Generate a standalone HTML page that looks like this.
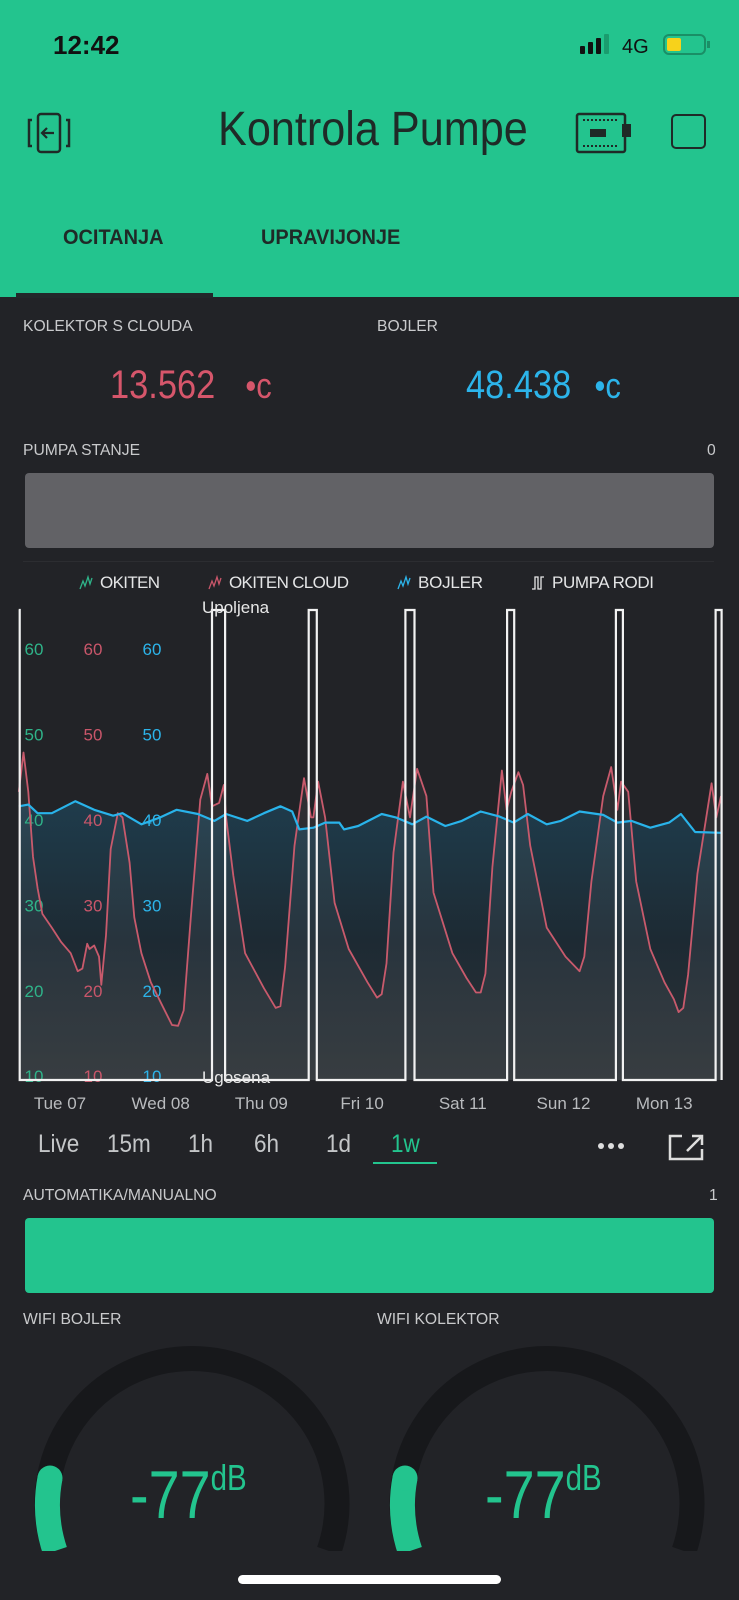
<!DOCTYPE html>
<html><head><meta charset="utf-8">
<style>
*{margin:0;padding:0;box-sizing:border-box}
html,body{width:739px;height:1600px;overflow:hidden;background:#222327;font-family:"Liberation Sans",sans-serif}
.abs{position:absolute;white-space:nowrap}
.lbl{font-size:16px;color:#c9cacc;transform:scaleX(0.98);transform-origin:0 50%}
#hdr{position:absolute;left:0;top:0;width:739px;height:297px;background:#23c48e}
.tab{font-size:21px;font-weight:bold;color:#1f2a27;transform:scaleX(0.95);transform-origin:0 50%}
.tb{font-size:25px;color:#c4c6c8;transform:scaleX(0.9);transform-origin:0 50%}
</style></head><body>
<div id="hdr"></div>
<div class="abs" style="left:53px;top:30px;font-size:26px;font-weight:bold;color:#111">12:42</div>
<svg class="abs" style="left:575px;top:30px" width="140" height="30">
 <rect x="5" y="16" width="5" height="8" rx="1" fill="#111"/><rect x="13" y="12" width="5" height="12" rx="1" fill="#111"/><rect x="21" y="8" width="5" height="16" rx="1" fill="#111"/><rect x="29" y="4" width="5" height="20" rx="1" fill="#1a9c6e"/>
 <text x="47" y="23" font-size="20" fill="#111" font-family="Liberation Sans">4G</text>
 <rect x="89" y="5" width="41" height="19" rx="5" fill="none" stroke="#1a8f66" stroke-width="2"/><rect x="92" y="8" width="14" height="13" rx="2" fill="#f7d21b"/><rect x="132" y="11" width="3" height="7" fill="#1a8f66"/>
</svg>
<svg class="abs" style="left:26px;top:112px" width="50" height="42">
 <rect x="12" y="2" width="22" height="38" rx="3" fill="none" stroke="#1f2a27" stroke-width="2.5"/>
 <path d="M6 8 L3 8 L3 34 L6 34 M40 8 L43 8 L43 34 L40 34" fill="none" stroke="#1f2a27" stroke-width="2.5"/>
 <path d="M28 21 L17 21 M21 16 L16 21 L21 26" fill="none" stroke="#1f2a27" stroke-width="2.2"/>
</svg>
<div class="abs" style="left:218px;top:102px;font-size:48px;color:#1f2a27;transform:scaleX(0.9);transform-origin:0 50%">Kontrola Pumpe</div>
<svg class="abs" style="left:574px;top:112px" width="62" height="42">
 <rect x="3" y="2" width="48" height="38" rx="2" fill="none" stroke="#1f2a27" stroke-width="2.5"/>
 <path d="M9 8 H45 M9 34 H45" stroke="#1f2a27" stroke-width="2" stroke-dasharray="2 2"/>
 <rect x="16" y="17" width="16" height="8" fill="#1f2a27"/><rect x="48" y="12" width="9" height="13" fill="#1f2a27"/>
</svg>
<div class="abs" style="left:671px;top:114px;width:35px;height:35px;border:2.5px solid #1f2a27;border-radius:5px"></div>
<div class="abs tab" style="left:63px;top:226px">OCITANJA</div>
<div class="abs tab" style="left:261px;top:226px">UPRAVIJONJE</div>
<div class="abs" style="left:16px;top:293px;width:197px;height:5px;background:#22282a"></div>

<div class="abs lbl" style="left:23px;top:318px">KOLEKTOR S CLOUDA</div>
<div class="abs lbl" style="left:377px;top:318px">BOJLER</div>
<div class="abs" style="left:110px;top:363px;font-size:40px;color:#d6566b;transform:scaleX(0.86);transform-origin:0 50%">13.562 <span style="margin-left:24px;font-size:36px">•c</span></div>
<div class="abs" style="left:466px;top:363px;font-size:40px;color:#2cb4ea;transform:scaleX(0.86);transform-origin:0 50%">48.438 <span style="margin-left:16px;font-size:36px">•c</span></div>
<div class="abs lbl" style="left:23px;top:442px">PUMPA STANJE</div>
<div class="abs lbl" style="left:707px;top:442px">0</div>
<div class="abs" style="left:25px;top:473px;width:689px;height:75px;background:#626266;border-radius:4px"></div>
<div class="abs" style="left:23px;top:561px;width:691px;height:1px;background:#2c2d31"></div>

<svg id="chart" class="abs" style="left:0;top:0" width="739" height="1600"></svg>

<div class="abs tb" style="left:38px;top:1130px">Live</div>
<div class="abs tb" style="left:107px;top:1130px">15m</div>
<div class="abs tb" style="left:188px;top:1130px">1h</div>
<div class="abs tb" style="left:254px;top:1130px">6h</div>
<div class="abs tb" style="left:326px;top:1130px">1d</div>
<div class="abs tb" style="left:391px;top:1130px;color:#23c48e">1w</div>
<div class="abs" style="left:373px;top:1162px;width:64px;height:2px;background:#23c48e"></div>
<svg class="abs" style="left:596px;top:1140px" width="32" height="12"><circle cx="5" cy="6" r="3" fill="#ddd"/><circle cx="15" cy="6" r="3" fill="#ddd"/><circle cx="25" cy="6" r="3" fill="#ddd"/></svg>
<svg class="abs" style="left:668px;top:1133px" width="36" height="28"><path d="M14 3 H2 V26 H34 V16" fill="none" stroke="#ddd" stroke-width="2.5"/><path d="M19 18 L33 4 M24 3 H34 V12" fill="none" stroke="#ddd" stroke-width="2.5"/></svg>

<div class="abs lbl" style="left:23px;top:1187px">AUTOMATIKA/MANUALNO</div>
<div class="abs lbl" style="left:709px;top:1187px">1</div>
<div class="abs" style="left:25px;top:1218px;width:689px;height:75px;background:#23c48e;border-radius:4px"></div>
<div class="abs lbl" style="left:23px;top:1311px">WIFI BOJLER</div>
<div class="abs lbl" style="left:377px;top:1311px">WIFI KOLEKTOR</div>

<svg class="abs" style="left:0;top:0" width="739" height="1600">
 <g>
  <path d="M55 1551 A145 145 0 1 1 329 1551" fill="none" stroke="#17181b" stroke-width="25"/>
  <path d="M55 1551 A145 145 0 0 1 50 1478" fill="none" stroke="#23c48e" stroke-width="25"/>
  <circle cx="50" cy="1478" r="12.5" fill="#23c48e"/>
 </g>
 <g>
  <path d="M410 1551 A145 145 0 1 1 684 1551" fill="none" stroke="#17181b" stroke-width="25"/>
  <path d="M410 1551 A145 145 0 0 1 405 1478" fill="none" stroke="#23c48e" stroke-width="25"/>
  <circle cx="405" cy="1478" r="12.5" fill="#23c48e"/>
 </g>
 <rect x="0" y="1551" width="739" height="49" fill="#222327"/>
</svg>
<div class="abs" style="left:130px;top:1456px;font-size:68px;color:#23c48e;transform:scaleX(0.82);transform-origin:0 50%">-77<sup style="font-size:36px;vertical-align:28px">dB</sup></div>
<div class="abs" style="left:485px;top:1456px;font-size:68px;color:#23c48e;transform:scaleX(0.82);transform-origin:0 50%">-77<sup style="font-size:36px;vertical-align:28px">dB</sup></div>
<div class="abs" style="left:238px;top:1575px;width:263px;height:9px;background:#fff;border-radius:5px"></div>

<script>
const redDays=[-0.409,-0.362,-0.315,-0.268,-0.222,-0.175,-0.081,0.012,0.106,0.176,0.223,0.270,0.293,0.340,0.387,0.410,0.457,0.504,0.574,0.621,0.691,0.738,0.808,0.902,1.019,1.112,1.173,1.229,1.299,1.393,1.463,1.510,1.580,1.627,1.650,1.721,1.838,2.025,2.142,2.189,2.235,2.329,2.423,2.493,2.516,2.563,2.633,2.727,2.867,3.054,3.148,3.195,3.242,3.312,3.405,3.476,3.546,3.639,3.709,3.897,4.037,4.131,4.178,4.224,4.294,4.388,4.435,4.482,4.552,4.599,4.669,4.833,5.020,5.160,5.207,5.277,5.394,5.474,5.535,5.572,5.642,5.722,5.862,6.003,6.096,6.143,6.190,6.237,6.330,6.471,6.517,6.564];
const redValues=[43.3,47.9,43.3,35.7,32.0,29.0,27.4,25.7,24.4,22.3,22.6,25.5,24.9,25.3,24.0,20.7,26.5,36.6,40.8,40.3,35.0,28.6,24.4,21.0,18.2,16.0,15.9,17.7,28.6,42.4,45.4,41.6,42.0,44.1,40.3,33.5,24.4,20.3,18.0,18.2,22.8,37.0,44.9,40.3,40.3,44.5,40.3,30.3,24.9,21.0,19.2,19.6,23.2,36.2,44.5,40.3,46.0,42.8,31.5,24.4,21.5,19.8,19.8,22.0,34.5,45.8,41.2,43.3,45.6,44.1,37.0,27.4,24.0,22.3,24.0,32.8,42.8,46.2,41.2,44.5,43.3,32.8,24.9,21.0,19.0,17.5,18.0,21.9,33.7,44.3,40.3,42.8];
const blueDays=[-0.409,-0.315,-0.222,-0.081,0.153,0.340,0.527,0.621,0.808,0.995,1.159,1.370,1.533,1.650,1.861,2.025,2.189,2.306,2.376,2.516,2.633,2.774,2.820,2.961,3.195,3.335,3.499,3.639,3.826,3.990,4.178,4.365,4.505,4.645,4.833,4.973,5.160,5.394,5.535,5.675,5.862,6.049,6.166,6.307,6.564];
const blueValues=[41.6,41.8,40.8,40.8,42.2,41.2,40.5,40.8,39.5,40.3,41.2,40.7,39.9,40.7,39.9,40.8,41.6,41.0,38.9,39.1,39.7,39.7,38.9,39.3,40.7,40.3,39.5,40.4,39.3,39.9,41.0,40.4,39.7,40.7,39.5,39.9,41.0,40.6,39.7,39.9,39.1,39.7,40.7,38.6,38.5];
const pumpStarts=[-0.41,1.51,2.47,3.43,4.44,5.52,6.51];
const pumpEnds=[-0.40,1.64,2.55,3.52,4.51,5.59,6.57];
const yTicks=[10,20,30,40,50,60];
const dayLabels=["Tue 07","Wed 08","Thu 09","Fri 10","Sat 11","Sun 12","Mon 13"];
const legendNames=["OKITEN","OKITEN CLOUD","BOJLER","PUMPA RODI"];

const NS="http://www.w3.org/2000/svg";
const svg=document.getElementById('chart');
const X0=-0.407,X1=6.564,PX0=19,PX1=721;
function xs(d){return PX0+(d-X0)/(X1-X0)*(PX1-PX0);}
function ys(v){return 820-(v-40)*8.54;}
const PHI=610,PLO=1080;
function mk(tag,attrs){const e=document.createElementNS(NS,tag);for(const k in attrs)e.setAttribute(k,attrs[k]);svg.appendChild(e);return e;}

const defs=mk('defs',{});
defs.innerHTML='<linearGradient id="bg" x1="0" y1="0" x2="0" y2="1"><stop offset="0" stop-color="#1f3c4c"/><stop offset="0.5" stop-color="#1d2a33"/><stop offset="1" stop-color="#2e3337"/></linearGradient>';

let ad='M'+xs(blueDays[0])+' '+PLO;
blueDays.forEach((d,i)=>{ad+=' L'+xs(d).toFixed(1)+' '+ys(blueValues[i]).toFixed(1);});
ad+=' L'+xs(blueDays[blueDays.length-1])+' '+PLO+' Z';
const area=mk('path',{d:ad,fill:'url(#bg)'});


let rd='M'+xs(redDays[0])+' '+PLO;
redDays.forEach((d,i)=>{rd+=' L'+xs(d).toFixed(1)+' '+ys(redValues[i]).toFixed(1);});
rd+=' L'+xs(redDays[redDays.length-1])+' '+PLO+' Z';
const rarea=mk('path',{d:rd,fill:'rgba(255,255,255,0.05)'});



const tickCols=[['#2fb389',34],['#c9566a',93],['#2cb4ea',152]];
tickCols.forEach((c,ci)=>{yTicks.forEach(v=>{
 const t=mk('text',{x:c[1],y:ys(v)+6,'text-anchor':'middle','font-size':17,fill:c[0],'font-family':'Liberation Sans'});
 t.textContent=v;
 
 
});});

let rl='';redDays.forEach((d,i)=>{rl+=(i?' L':'M')+xs(d).toFixed(1)+' '+ys(redValues[i]).toFixed(1);});
const rline=mk('path',{d:rl,fill:'none',stroke:'#c85a6c','stroke-width':1.8,'stroke-linejoin':'round'});


let bl='';blueDays.forEach((d,i)=>{bl+=(i?' L':'M')+xs(d).toFixed(1)+' '+ys(blueValues[i]).toFixed(1);});
const bline=mk('path',{d:bl,fill:'none',stroke:'#29b3ea','stroke-width':2.2,'stroke-linejoin':'round'});



let pd='M'+xs(pumpStarts[0])+' '+PHI;
pumpStarts.forEach((s,i)=>{
 if(i>0){pd+=' L'+xs(s).toFixed(1)+' '+PLO+' L'+xs(s).toFixed(1)+' '+PHI;}
 pd+=' L'+xs(pumpEnds[i]).toFixed(1)+' '+PHI;
 if(i<pumpStarts.length-1)pd+=' L'+xs(pumpEnds[i]).toFixed(1)+' '+PLO;
});
pd+=' L'+xs(pumpEnds[pumpEnds.length-1]).toFixed(1)+' '+PLO;
const pline=mk('path',{d:pd,fill:'none',stroke:'#f2f2f2','stroke-width':2.2});


const up=mk('text',{x:202,y:613,'font-size':17,fill:'#e8e8e8','font-family':'Liberation Sans'});up.textContent='Upoljena';


const dn=mk('text',{x:202,y:1083,'font-size':17,fill:'#e8e8e8','font-family':'Liberation Sans'});dn.textContent='Ugosena';



dayLabels.forEach((l,i)=>{
 const t=mk('text',{x:xs(i),y:1109,'text-anchor':'middle','font-size':17,fill:'#b9bbbe','font-family':'Liberation Sans'});
 t.textContent=l;
 
 
});

const legX=[100,229,418,552],legCol=['#2fb389','#c9566a','#2cb4ea','#e8e8e8'];
legendNames.forEach((n,i)=>{
 const g=mk('g',{});
 
 
 const ic=document.createElementNS(NS,'path');
 const x=legX[i]-20;
 ic.setAttribute('d',i<3?`M${x} 589 L${x+3} 581 L${x+5} 586 L${x+8} 577 L${x+10} 584 L${x+12} 578`:`M${x} 589 L${x+3} 589 L${x+3} 577 L${x+6} 577 L${x+6} 589 L${x+9} 589 L${x+9} 577 L${x+12} 577`);
 ic.setAttribute('fill','none');ic.setAttribute('stroke',legCol[i]);ic.setAttribute('stroke-width','1.3');
 g.appendChild(ic);
 const t=document.createElementNS(NS,'text');
 t.setAttribute('x',legX[i]);t.setAttribute('y',588);t.setAttribute('font-size',17);t.setAttribute('fill','#e4e5e6');t.setAttribute('font-family','Liberation Sans');
 t.setAttribute('textLength',[60,120,65,102][i]);
 t.textContent=n;g.appendChild(t);
});
</script>
</body></html>
